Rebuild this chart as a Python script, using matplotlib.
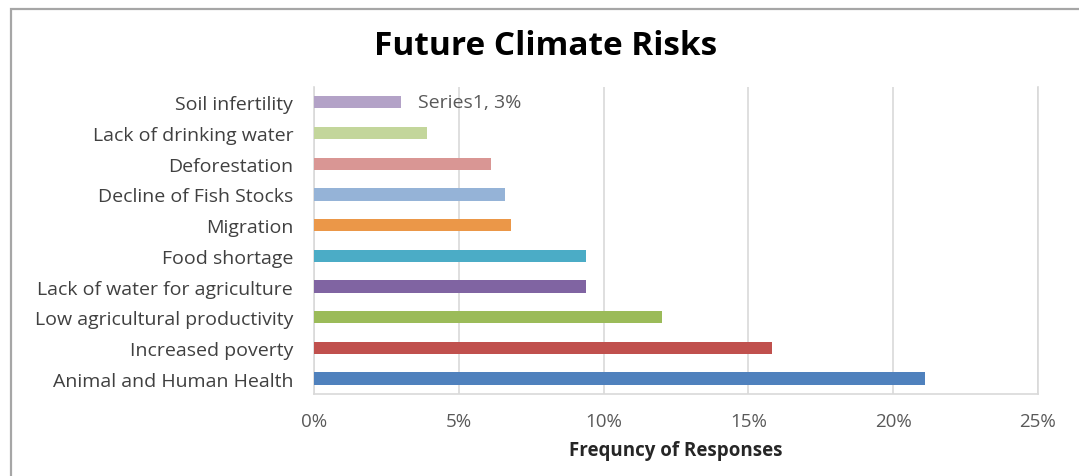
import matplotlib.pyplot as plt
from matplotlib.patches import Rectangle
from matplotlib.ticker import FuncFormatter

plt.rcParams['font.family'] = ['Open Sans', 'DejaVu Sans']

# responses, bottom to top
risks = ["Animal and Human Health", "Increased poverty", "Low agricultural productivity",
         "Lack of water for agriculture", "Food shortage", "Migration",
         "Decline of Fish Stocks", "Deforestation", "Lack of drinking water", "Soil infertility"]
shares = [21.1, 15.8, 12.0, 9.4, 9.4, 6.8, 6.6, 6.1, 3.9, 3.0]
colors = ["#4F81BD", "#C0504D", "#9BBB59", "#8064A2", "#4BACC6", "#EB9748",
          "#95B3D7", "#D99694", "#C3D69B", "#B3A2C7"]
xticks = [0, 5, 10, 15, 20, 25]

fig = plt.figure(figsize=(10.79, 4.77), dpi=100)
ax = fig.add_axes([0.291, 0.172, 0.671, 0.6435])

# outer chart frame (runs off the right and bottom edges)
fig.patches.append(Rectangle((11 / 1079, -0.05), 1.2, 1 - 10 / 477 + 0.05,
                             transform=fig.transFigure, fill=False,
                             edgecolor="#A6A6A6", linewidth=1.6))

y = range(len(risks))
ax.barh(y, shares, height=0.4, color=colors, zorder=3)

ax.set_xlim(0, 25)
ax.set_ylim(-0.5, len(risks) - 0.5)
ax.set_xticks(xticks)
ax.xaxis.set_major_formatter(FuncFormatter(lambda v, p: f"{v:.0f}%"))
ax.set_yticks(list(y))
ax.set_yticklabels(risks)
ax.grid(axis="x", color="#D9D9D9", linewidth=1.2, zorder=0)
ax.tick_params(axis="both", length=0, labelsize=14, labelcolor="#404040")
ax.tick_params(axis="x", pad=13, labelsize=13.5, labelcolor="#595959")
ax.tick_params(axis="y", pad=15)

for side in ["left", "bottom", "right"]:
    ax.spines[side].set_color("#D9D9D9")
    ax.spines[side].set_linewidth(1.2)
ax.spines["top"].set_visible(False)

ax.annotate(f"Series1, {shares[-1]:.0f}%", xy=(shares[-1], len(risks) - 1),
            xytext=(12, 0), textcoords="offset points", va="center", ha="left",
            fontsize=14, color="#595959")

ax.set_xlabel("Frequncy of Responses", fontsize=13.5, fontweight="bold",
              color="#262626", labelpad=7)
fig.text(0.506, 0.902, "Future Climate Risks", ha="center", va="center",
         fontsize=24, fontweight="bold", color="#000000")

fig.savefig("out.png", dpi=100)
